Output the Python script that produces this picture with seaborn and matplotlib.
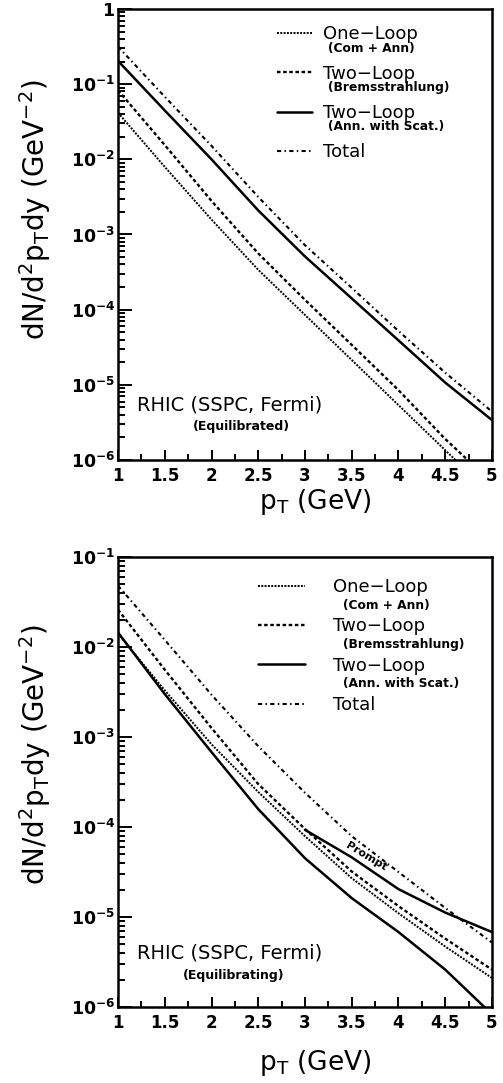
import numpy as np
import pandas as pd
import matplotlib
matplotlib.use("Agg")
import matplotlib.pyplot as plt
import matplotlib.ticker as mticker
import seaborn as sns

# p_T grid (GeV)
pt = [1.0, 1.5, 2.0, 2.5, 3.0, 3.5, 4.0, 4.5, 5.0]
pt_prompt = [3.0, 3.5, 4.0, 4.5, 5.0]

# upper panel: equilibrated plasma, dN/d2pT dy (GeV^-2)
eq_one_loop = [4.17e-2, 7.94e-3, 1.58e-3, 3.39e-4, 8.51e-5, 2.14e-5, 5.37e-6, 1.35e-6, 3.39e-7]
eq_brems = [8.3e-2, 1.55e-2, 2.8e-3, 5.6e-4, 1.35e-4, 3.4e-5, 8.5e-6, 1.9e-6, 5.0e-7]
eq_ann_scat = [2.04e-1, 4.47e-2, 1.0e-2, 2.09e-3, 5.1e-4, 1.41e-4, 3.9e-5, 1.07e-5, 3.4e-6]
eq_total = [3.16e-1, 6.8e-2, 1.51e-2, 3.16e-3, 7.2e-4, 1.95e-4, 5.2e-5, 1.45e-5, 4.4e-6]

# lower panel: equilibrating plasma
neq_one_loop = [1.41e-2, 3.3e-3, 8.3e-4, 2.45e-4, 7.9e-5, 2.7e-5, 1.1e-5, 4.7e-6, 2.1e-6]
neq_brems = [2.6e-2, 5.6e-3, 1.26e-3, 3.0e-4, 9.5e-5, 3.2e-5, 1.32e-5, 5.75e-6, 2.6e-6]
neq_ann_scat = [1.45e-2, 3.0e-3, 6.8e-4, 1.58e-4, 4.5e-5, 1.62e-5, 6.8e-6, 2.6e-6, 8.3e-7]
neq_total = [4.8e-2, 1.2e-2, 2.95e-3, 7.9e-4, 2.4e-4, 7.9e-5, 3.16e-5, 1.26e-5, 5.2e-6]
neq_prompt = [9.3e-5, 4.6e-5, 2.04e-5, 1.12e-5, 6.8e-6]

legend_main = ["One\u2212Loop", "Two\u2212Loop", "Two\u2212Loop", "Total"]
legend_sub = ["(Com + Ann)", "(Bremsstrahlung)", "(Ann. with Scat.)"]

sns.set_style("ticks")
plt.rcParams["font.family"] = ["DejaVu Sans"]
plt.rcParams["mathtext.fontset"] = "dejavusans"
plt.rcParams["text.color"] = "k"
plt.rcParams["axes.labelcolor"] = "k"
plt.rcParams["xtick.color"] = "k"
plt.rcParams["ytick.color"] = "k"

styles = [
    dict(ls=(0, (1, 0.7)), lw=1.4),       # one-loop, fine dots
    dict(ls=(0, (1.5, 1.1)), lw=1.7),     # bremsstrahlung, short dashes
    dict(ls="-", lw=1.8),                 # ann. with scattering
    dict(ls=(0, (2.0, 1.6, 0.7, 1.6)), lw=1.5),  # total, dash-dot
]

W, H = 503, 1083
fig = plt.figure(figsize=(W / 100, H / 100), dpi=100)
ax_top = fig.add_axes([118 / W, 1 - 460 / H, 374 / W, 451 / H])
ax_bot = fig.add_axes([118 / W, 1 - 1007 / H, 374 / W, 450 / H])


def log_label(v, pos):
    if abs(v - 1) < 1e-9:
        return r"$\mathbf{1}$"
    return r"$\mathbf{10^{%d}}$" % int(round(np.log10(v)))


def draw_panel(ax, series, ymax):
    for vals, st in zip(series, styles):
        sns.lineplot(x=pt, y=vals, ax=ax, color="k", linestyle=st["ls"],
                     lw=st["lw"], estimator=None, sort=False)
    ax.set_yscale("log")
    ax.set_xlim(1, 5)
    ax.set_ylim(1e-6, ymax)
    ax.xaxis.set_major_locator(mticker.MultipleLocator(0.5))
    ax.xaxis.set_minor_locator(mticker.MultipleLocator(0.25))
    ax.xaxis.set_major_formatter(mticker.FuncFormatter(lambda v, p: "%g" % v))
    ax.yaxis.set_major_locator(mticker.LogLocator(base=10, numticks=20))
    ax.yaxis.set_minor_locator(mticker.LogLocator(base=10, subs=np.arange(2, 10), numticks=20))
    ax.yaxis.set_major_formatter(mticker.FuncFormatter(log_label))
    ax.yaxis.set_minor_formatter(mticker.NullFormatter())
    ax.tick_params(which="both", direction="in", top=False, right=False, width=1.4,
                   color="k", labelcolor="k")
    ax.tick_params(axis="y", which="major", length=10, pad=2, labelsize=12.5)
    ax.tick_params(axis="y", which="minor", length=5)
    ax.tick_params(axis="x", which="major", length=7, pad=5, labelsize=12)
    ax.tick_params(axis="x", which="minor", length=4)
    for lab in ax.get_xticklabels():
        lab.set_fontweight("bold")
    for sp in ax.spines.values():
        sp.set_linewidth(1.8)
        sp.set_color("k")
        sp.set_visible(True)
    ax.set_xlabel("")
    ax.set_ylabel("")


draw_panel(ax_top, [eq_one_loop, eq_brems, eq_ann_scat, eq_total], 1.0)
draw_panel(ax_bot, [neq_one_loop, neq_brems, neq_ann_scat, neq_total], 1e-1)

# prompt contribution (lower panel)
sns.lineplot(x=pt_prompt, y=neq_prompt, ax=ax_bot, color="k", lw=1.8, estimator=None, sort=False)
ax_bot.text(3.66, 10 ** -4.33, "Prompt", fontsize=8, fontweight="bold", rotation=-31,
            ha="center", va="center")

# legends
legs = []
for ax, anchor, hl, pad in [(ax_top, (0.425, 0.964), 1.95, 0.6), (ax_bot, (0.374, 0.953), 2.6, 1.55)]:
    leg = ax.legend(ax.lines[:4], legend_main, loc="upper left", bbox_to_anchor=anchor,
                    frameon=False, fontsize=13, handlelength=hl, handletextpad=pad,
                    labelspacing=1.18, borderpad=0, borderaxespad=0)
    legs.append(leg)

# annotations
ax_top.text(0.298, 0.122, "RHIC (SSPC, Fermi)", transform=ax_top.transAxes, fontsize=14,
            ha="center", va="center")
ax_top.text(0.329, 0.075, "(Equilibrated)", transform=ax_top.transAxes, fontsize=9,
            fontweight="bold", ha="center", va="center")
ax_bot.text(0.298, 0.12, "RHIC (SSPC, Fermi)", transform=ax_bot.transAxes, fontsize=14,
            ha="center", va="center")
ax_bot.text(0.31, 0.069, "(Equilibrating)", transform=ax_bot.transAxes, fontsize=9,
            fontweight="bold", ha="center", va="center")

ylab = r"dN/d$^2$p$_{\rm T}$dy (GeV$^{-2}$)"
xlab = r"p$_{\rm T}$ (GeV)"
fig.text(35 / W, 1 - 210 / H, ylab, rotation=90, fontsize=20, ha="center", va="center")
fig.text(35 / W, 1 - 755 / H, ylab, rotation=90, fontsize=20, ha="center", va="center")
fig.text(315 / W, 1 - 502 / H, xlab, fontsize=19, ha="center", va="center")
fig.text(315 / W, 1 - 1063 / H, xlab, fontsize=19, ha="center", va="center")

# sub-labels under legend entries
fig.canvas.draw()
for leg, dx, dy in [(legs[0], 5, 14), (legs[1], 10, 18)]:
    for t, sub in zip(leg.get_texts()[:3], legend_sub):
        bb = t.get_window_extent()
        cy = (bb.y0 + bb.y1) / 2
        fig.text((bb.x0 + dx) / W, (cy - dy) / H, sub, fontsize=8.8, fontweight="bold",
                 ha="left", va="center")

fig.savefig("out.png", dpi=100)
